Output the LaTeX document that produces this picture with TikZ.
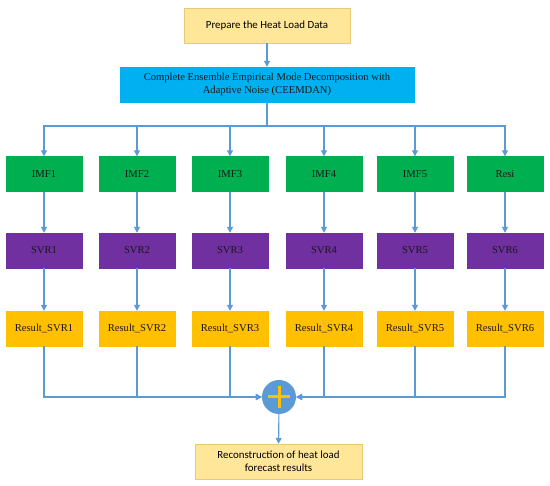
\documentclass[tikz,border=0pt]{standalone}
\usepackage{fontspec}
\setmainfont{Liberation Serif}
\newfontfamily\calibrifont{Carlito}
\usepackage{tikz}
\usetikzlibrary{arrows.meta, positioning, calc}
\definecolor{prepyellow}{HTML}{FFE699}
\definecolor{prepedge}{HTML}{E8C977}
\definecolor{ceemdanblue}{HTML}{00B0F0}
\definecolor{imfgreen}{HTML}{00B050}
\definecolor{svrpurple}{HTML}{7030A0}
\definecolor{resultorange}{HTML}{FFC000}
\definecolor{linkblue}{HTML}{5B9BD5}

\begin{document}
\begin{tikzpicture}[
    x=1pt, y=-1pt,
    component/.style={rectangle, draw=#1, fill=#1, minimum width=76pt,
                     minimum height=35pt, font=\fontsize{10.6}{12.5}\selectfont,
                     align=center, inner sep=0pt, text=black!90},
    component/.default=imfgreen,
    sansbox/.style={rectangle, draw=prepedge, fill=prepyellow, minimum width=#1,
                    minimum height=35pt, font=\calibrifont\fontsize{10.9}{13}\selectfont,
                    align=center, inner sep=0pt},
    arrow/.style={-{Triangle[width=6pt,length=6pt]}, draw=linkblue, line width=1.1pt},
    link/.style={draw=linkblue, line width=1.1pt}
]
\useasboundingbox (0,0) rectangle (550,486);

% Input and decomposition
\node[sansbox=166pt] at (267,25.5) (prep) {Prepare the Heat Load Data};
\node[component=ceemdanblue, minimum width=294pt] at (267,84.5) (ceemdan)
    {Complete Ensemble Empirical Mode Decomposition with\\Adaptive Noise (CEEMDAN)};
\coordinate (split) at (267,126);

% Components
\node[component=imfgreen] at (44,174) (imf1) {IMF1};
\node[component=imfgreen] at (137,174) (imf2) {IMF2};
\node[component=imfgreen] at (230,174) (imf3) {IMF3};
\node[component=imfgreen] at (324,174) (imf4) {IMF4};
\node[component=imfgreen] at (415,174) (imf5) {IMF5};
\node[component=imfgreen] at (505,174) (resi) {Resi};

% Regressors
\node[component=svrpurple] at (44,250.5) (svr1) {SVR1};
\node[component=svrpurple] at (137,250.5) (svr2) {SVR2};
\node[component=svrpurple] at (230,250.5) (svr3) {SVR3};
\node[component=svrpurple] at (324,250.5) (svr4) {SVR4};
\node[component=svrpurple] at (415,250.5) (svr5) {SVR5};
\node[component=svrpurple] at (505,250.5) (svr6) {SVR6};

% Results
\node[component=resultorange] at (44,328.5) (res1) {Result\_SVR1};
\node[component=resultorange] at (137,328.5) (res2) {Result\_SVR2};
\node[component=resultorange] at (230,328.5) (res3) {Result\_SVR3};
\node[component=resultorange] at (324,328.5) (res4) {Result\_SVR4};
\node[component=resultorange] at (415,328.5) (res5) {Result\_SVR5};
\node[component=resultorange] at (505,328.5) (res6) {Result\_SVR6};

% Sum and output
\node[circle, fill=linkblue, minimum size=34pt, inner sep=0pt] at (279,397) (sum) {};
\draw[resultorange, line width=3pt] ([xshift=-11pt]sum.center) -- ([xshift=11pt]sum.center);
\draw[resultorange, line width=3pt] ([yshift=-11pt]sum.center) -- ([yshift=11pt]sum.center);
\node[sansbox=167pt] at (278.5,461.5) (recon) {Reconstruction of heat load\\forecast results};

% Arrows
\draw[arrow] (prep) -- (ceemdan);
\draw[link] (ceemdan) -- (split);
\draw[arrow] (split) -| (imf1);
\draw[arrow] (split) -| (imf2);
\draw[arrow] (split) -| (imf3);
\draw[arrow] (split) -| (imf4);
\draw[arrow] (split) -| (imf5);
\draw[arrow] (split) -| (resi);

\draw[arrow] (imf1) -- (svr1);
\draw[arrow] (imf2) -- (svr2);
\draw[arrow] (imf3) -- (svr3);
\draw[arrow] (imf4) -- (svr4);
\draw[arrow] (imf5) -- (svr5);
\draw[arrow] (resi) -- (svr6);

\draw[arrow] (svr1) -- (res1);
\draw[arrow] (svr2) -- (res2);
\draw[arrow] (svr3) -- (res3);
\draw[arrow] (svr4) -- (res4);
\draw[arrow] (svr5) -- (res5);
\draw[arrow] (svr6) -- (res6);

\draw[arrow] (res1) |- (sum);
\draw[arrow] (res2) |- (sum);
\draw[arrow] (res3) |- (sum);
\draw[arrow] (res4) |- (sum);
\draw[arrow] (res5) |- (sum);
\draw[arrow] (res6) |- (sum);
\draw[arrow] (sum) -- (recon);

\end{tikzpicture}
\end{document}
